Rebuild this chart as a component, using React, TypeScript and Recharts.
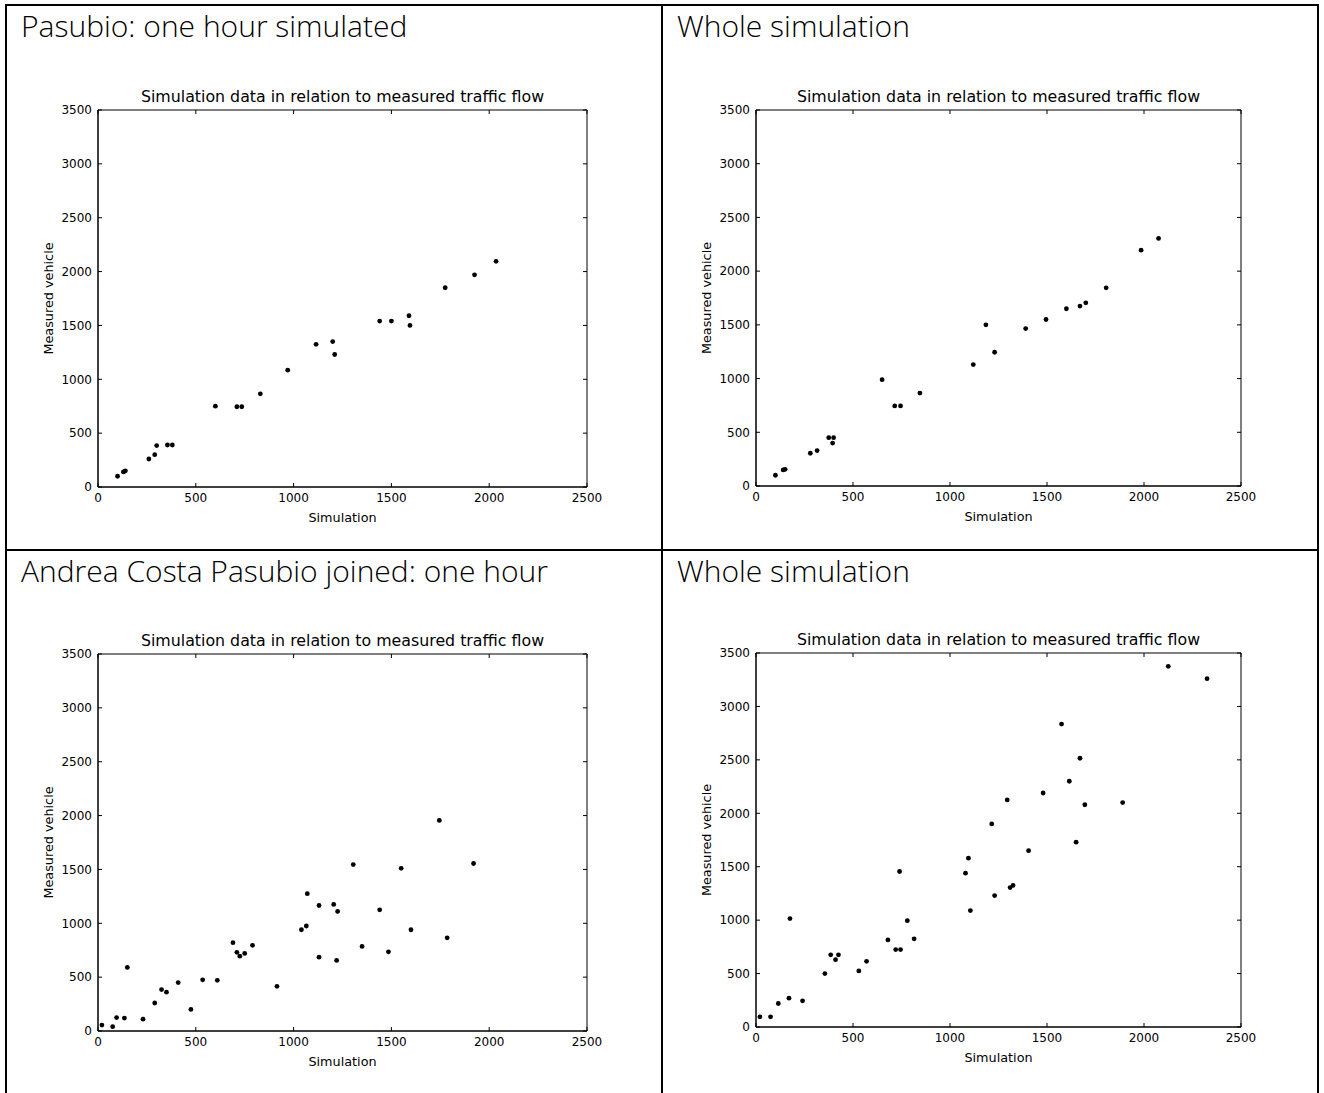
import { ScatterChart, Scatter, XAxis, YAxis } from "recharts";

const xTicks = [0, 500, 1000, 1500, 2000, 2500];
const yTicks = [0, 500, 1000, 1500, 2000, 2500, 3000, 3500];

const chartTitle = "Simulation data in relation to measured traffic flow";
const xLabel = "Simulation";
const yLabel = "Measured vehicle";

// Pasubio: one hour simulated
const pasubioHourSim = [100, 130, 140, 260, 290, 300, 355, 380, 600, 710, 735, 830, 970, 1115, 1200, 1210, 1440, 1500, 1590, 1595, 1775, 1925, 2035];
const pasubioHourMeasured = [100, 140, 150, 260, 300, 385, 390, 390, 750, 745, 745, 865, 1085, 1325, 1350, 1230, 1540, 1540, 1590, 1500, 1850, 1970, 2095];

// Pasubio: whole simulation
const pasubioWholeSim = [100, 140, 150, 280, 315, 375, 395, 400, 650, 715, 745, 845, 1120, 1185, 1230, 1390, 1495, 1600, 1670, 1700, 1805, 1985, 2075];
const pasubioWholeMeasured = [100, 150, 155, 305, 330, 450, 400, 450, 990, 745, 745, 865, 1130, 1500, 1245, 1465, 1550, 1650, 1675, 1705, 1845, 2195, 2305];

// Andrea Costa + Pasubio: one hour
const joinedHourSim = [20, 75, 95, 135, 150, 230, 290, 325, 350, 410, 475, 535, 610, 690, 710, 725, 750, 790, 915, 1040, 1065, 1070, 1130, 1130, 1205, 1225, 1220, 1305, 1350, 1440, 1485, 1550, 1600, 1745, 1785, 1920];
const joinedHourMeasured = [55, 40, 125, 120, 590, 110, 260, 385, 360, 450, 200, 475, 470, 820, 730, 695, 720, 795, 415, 940, 975, 1275, 1165, 685, 1175, 1110, 655, 1545, 785, 1125, 735, 1510, 940, 1955, 865, 1555];

// Andrea Costa + Pasubio: whole simulation
const joinedWholeSim = [20, 75, 115, 170, 175, 240, 355, 385, 410, 425, 530, 570, 680, 720, 745, 740, 780, 815, 1080, 1095, 1105, 1215, 1230, 1295, 1310, 1325, 1405, 1480, 1575, 1615, 1650, 1670, 1695, 1890, 2125, 2325];
const joinedWholeMeasured = [95, 95, 220, 270, 1015, 245, 500, 675, 630, 675, 525, 615, 815, 725, 725, 1455, 995, 825, 1440, 1580, 1090, 1900, 1230, 2125, 1305, 1325, 1650, 2190, 2835, 2300, 1730, 2515, 2080, 2100, 3375, 3260];

const zip = (sim: number[], measured: number[]) => sim.map((s, i) => ({ sim: s, measured: measured[i] }));

const font = "'DejaVu Sans', sans-serif";
const tickStyle = { fontSize: 12, fill: "#000", fontFamily: font };
const labelStyle = { fontSize: 12.8, fill: "#000", fontFamily: font };

const Dot = (props: any) => <circle cx={props.cx} cy={props.cy} r={2.4} fill="#000" />;
const NoDot = () => null;
const NoTick = () => <g />;

const xBase = { type: "number" as const, dataKey: "sim", domain: [0, 2500], ticks: xTicks, allowDataOverflow: true, stroke: "#000" };
const yBase = { type: "number" as const, dataKey: "measured", domain: [0, 3500], ticks: yTicks, allowDataOverflow: true, stroke: "#000" };

type PanelProps = {
  data: { sim: number[]; measured: number[] };
  left: number;
  top: number;
  w: number;
  h: number;
};

function Panel({ data, left, top, w, h }: PanelProps) {
  const points = zip(data.sim, data.measured);
  return (
    <>
      <div
        style={{
          position: "absolute",
          left,
          top: top - 22,
          width: w,
          textAlign: "center",
          fontFamily: font,
          fontSize: 15.8,
          lineHeight: "18px",
          whiteSpace: "nowrap",
        }}
      >
        {chartTitle}
      </div>
      <div style={{ position: "absolute", left: left - 100, top: top - 10 }}>
        <ScatterChart width={100 + w + 20} height={10 + h + 60} margin={{ top: 10, right: 20, bottom: 0, left: 0 }}>
          {/* labelled outer axes, no tick lines */}
          <XAxis {...xBase} xAxisId="b" height={60} tickLine={false} tickMargin={0} tick={tickStyle}
            label={{ value: xLabel, position: "center", dy: 0, style: labelStyle }} />
          <YAxis {...yBase} yAxisId="l" width={100} tickLine={false} tickMargin={0} tick={tickStyle}
            label={{ value: yLabel, angle: -90, position: "center", style: labelStyle }} />
          {/* mirrored axes give the inward ticks on all four sides */}
          <XAxis {...xBase} xAxisId="bi" mirror height={1} tickSize={4} tickLine={{ stroke: "#000" }} tick={NoTick} />
          <XAxis {...xBase} xAxisId="ti" orientation="top" mirror height={1} tickSize={4} tickLine={{ stroke: "#000" }} tick={NoTick} />
          <YAxis {...yBase} yAxisId="li" mirror width={1} tickSize={4} tickLine={{ stroke: "#000" }} tick={NoTick} />
          <YAxis {...yBase} yAxisId="ri" orientation="right" mirror width={1} tickSize={4} tickLine={{ stroke: "#000" }} tick={NoTick} />
          <Scatter data={points} xAxisId="bi" yAxisId="li" shape={NoDot} isAnimationActive={false} />
          <Scatter data={points} xAxisId="ti" yAxisId="ri" shape={NoDot} isAnimationActive={false} />
          <Scatter data={points} xAxisId="b" yAxisId="l" fill="#000" shape={Dot} isAnimationActive={false} />
        </ScatterChart>
      </div>
    </>
  );
}

const headStyle = {
  position: "absolute" as const,
  fontFamily: "'Open Sans', sans-serif",
  fontWeight: 300,
  fontSize: 30,
  lineHeight: "30px",
  color: "#000",
  whiteSpace: "nowrap" as const,
};

export default function App() {
  return (
    <div style={{ position: "absolute", left: 0, top: 0, width: 1324, height: 1093, background: "#fff", overflow: "hidden" }}>
      {/* table rules */}
      <div style={{ position: "absolute", left: 5, top: 4, width: 1314, height: 2, background: "#000" }} />
      <div style={{ position: "absolute", left: 5, top: 549, width: 1314, height: 2, background: "#000" }} />
      <div style={{ position: "absolute", left: 5, top: 4, width: 2, height: 1089, background: "#000" }} />
      <div style={{ position: "absolute", left: 661, top: 4, width: 2, height: 1089, background: "#000" }} />
      <div style={{ position: "absolute", left: 1317, top: 4, width: 2, height: 1089, background: "#000" }} />

      <div style={{ ...headStyle, left: 21, top: 11 }}>Pasubio: one hour simulated</div>
      <div style={{ ...headStyle, left: 677, top: 11 }}>Whole simulation</div>
      <div style={{ ...headStyle, left: 21, top: 556 }}>Andrea Costa Pasubio joined: one hour</div>
      <div style={{ ...headStyle, left: 677, top: 556 }}>Whole simulation</div>

      <Panel data={{ sim: pasubioHourSim, measured: pasubioHourMeasured }} left={98} top={110} w={489} h={377} />
      <Panel data={{ sim: pasubioWholeSim, measured: pasubioWholeMeasured }} left={756} top={110} w={485} h={376} />
      <Panel data={{ sim: joinedHourSim, measured: joinedHourMeasured }} left={98} top={654} w={489} h={377} />
      <Panel data={{ sim: joinedWholeSim, measured: joinedWholeMeasured }} left={756} top={653} w={485} h={374} />
    </div>
  );
}
